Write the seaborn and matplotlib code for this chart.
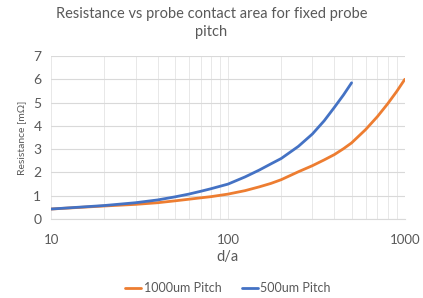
import pandas as pd
import matplotlib.pyplot as plt
import seaborn as sns

# values
da_1000 = [10, 20, 30, 40, 50, 60, 70, 80, 100, 125, 150, 175, 200, 250, 300, 350, 400, 450, 500, 600, 700, 800, 900, 1000]
res_1000 = [0.43, 0.56, 0.63, 0.70, 0.78, 0.85, 0.91, 0.96, 1.07, 1.22, 1.38, 1.53, 1.69, 2.03, 2.29, 2.54, 2.77, 3.02, 3.27, 3.84, 4.40, 4.95, 5.48, 6.0]

da_500 = [10, 20, 30, 40, 50, 60, 70, 80, 100, 125, 150, 175, 200, 250, 300, 350, 400, 450, 500]
res_500 = [0.43, 0.58, 0.70, 0.82, 0.95, 1.07, 1.19, 1.30, 1.50, 1.81, 2.10, 2.37, 2.60, 3.12, 3.65, 4.22, 4.80, 5.33, 5.85]

series_names = ['1000um Pitch', '500um Pitch']
colors = ['#ED7D31', '#4472C4']
y_ticks = [0, 1, 2, 3, 4, 5, 6, 7]

df = pd.concat([
    pd.DataFrame({'d/a': da_1000, 'R': res_1000, 'series': series_names[0]}),
    pd.DataFrame({'d/a': da_500, 'R': res_500, 'series': series_names[1]}),
])

sns.set_style('white')
plt.rcParams['font.family'] = ['Lato', 'DejaVu Sans']
text_col = '#595959'
grid_col = '#D9D9D9'
vgrid_col = '#E8E8E8'

fig, ax = plt.subplots(figsize=(4.23, 2.98), dpi=100)
fig.subplots_adjust(left=0.121, right=0.957, top=0.812, bottom=0.265)

sns.lineplot(data=df, x='d/a', y='R', hue='series', hue_order=series_names,
             palette=colors, linewidth=2, ax=ax, sort=False)

ax.set_xscale('log')
ax.set_xlim(10, 1000)
ax.set_ylim(0, 7)
ax.set_yticks(y_ticks)
ax.set_xticks([10, 100, 1000])
ax.set_xticklabels(['10', '100', '1000'])

ax.grid(True, which='major', axis='y', color=grid_col, linewidth=0.8)
ax.grid(True, which='both', axis='x', color=vgrid_col, linewidth=0.7)
ax.set_axisbelow(True)

for s in ['top', 'right', 'left']:
    ax.spines[s].set_visible(False)
ax.spines['bottom'].set_color(grid_col)

ax.tick_params(axis='x', which='major', length=4, color=grid_col, labelsize=9.5, labelcolor=text_col, pad=7)
ax.tick_params(axis='x', which='minor', length=0)
ax.tick_params(axis='y', length=0, labelsize=10, labelcolor=text_col, pad=7)

ax.set_xlabel('d/a', fontsize=10.5, color=text_col, labelpad=3)
ax.set_ylabel('Resistance [mΩ]', fontsize=7.5, color=text_col, labelpad=5)

fig.suptitle('Resistance vs probe contact area for fixed probe\npitch',
             fontsize=10.5, color=text_col, y=0.975, linespacing=1.35)

ax.legend(loc='upper center', bbox_to_anchor=(0.5, -0.32), ncol=2, frameon=False,
          fontsize=9, handlelength=1.3, handletextpad=0.2, columnspacing=1.6,
          labelcolor=text_col)

fig.savefig('out.png', dpi=100)
